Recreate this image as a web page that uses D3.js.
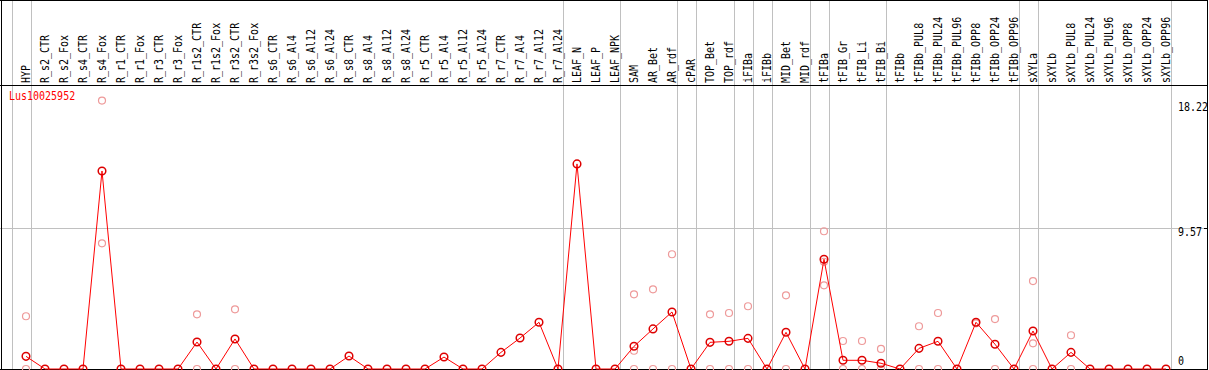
<!DOCTYPE html>
<html>
<head>
<meta charset="utf-8">
<script src="https://cdn.jsdelivr.net/npm/d3@7"></script>
<style>
  body { margin: 0; background: #fff; }
  svg { display: block; }
  text { font-family: "DejaVu Sans Mono", monospace; font-size: 10px; }
</style>
</head>
<body>
<div id="chart-area"></div>
<script>
var categories = ["HYP",
    "R_s2_CTR", "R_s2_Fox", "R_s4_CTR", "R_s4_Fox", "R_r1_CTR", "R_r1_Fox", "R_r3_CTR", "R_r3_Fox",
    "R_r1s2_CTR", "R_r1s2_Fox", "R_r3s2_CTR", "R_r3s2_Fox",
    "R_s6_CTR", "R_s6_Al4", "R_s6_Al12", "R_s6_Al24", "R_s8_CTR", "R_s8_Al4", "R_s8_Al12", "R_s8_Al24",
    "R_r5_CTR", "R_r5_Al4", "R_r5_Al12", "R_r5_Al24", "R_r7_CTR", "R_r7_Al4", "R_r7_Al12", "R_r7_Al24",
    "LEAF_N", "LEAF_P", "LEAF_NPK",
    "SAM", "AR_Bet", "AR_rdf",
    "cPAR",
    "TOP_Bet", "TOP_rdf",
    "iFIBa",
    "iFIBb",
    "MID_Bet", "MID_rdf",
    "tFIBa",
    "tFIB_Gr", "tFIB_Li", "tFIB_Bi",
    "tFIBb", "tFIBb_PUL8", "tFIBb_PUL24", "tFIBb_PUL96", "tFIBb_OPP8", "tFIBb_OPP24", "tFIBb_OPP96",
    "sXYLa",
    "sXYLb", "sXYLb_PUL8", "sXYLb_PUL24", "sXYLb_PUL96", "sXYLb_OPP8", "sXYLb_OPP24", "sXYLb_OPP96"];

// last category of each group (a grey separator follows it)
var groupEnds = ["HYP", "R_r7_Al24", "LEAF_NPK", "AR_rdf", "cPAR", "TOP_rdf", "iFIBa", "iFIBb",
    "MID_rdf", "tFIBa", "tFIB_Bi", "tFIBb_OPP96", "sXYLa", "sXYLb_OPP96"];

var geneName = "Lus10025952";

// mean expression (red line)
var meanValues = [0.86,
    0, 0, 0, 13.44, 0, 0, 0, 0,
    1.83, 0, 2.04, 0,
    0, 0, 0, 0, 0.88, 0, 0, 0,
    0, 0.81, 0, 0, 1.13, 2.10, 3.17, 0,
    13.92, 0, 0,
    1.54, 2.72, 3.87,
    0,
    1.81, 1.88,
    2.08,
    0,
    2.49, 0,
    7.45,
    0.59, 0.59, 0.39,
    0, 1.40, 1.88, 0, 3.17, 1.68, 0,
    2.58,
    0, 1.13, 0, 0, 0, 0, 0];

// replicate values (pale circles), null = not drawn
var rep1 = [3.58,
    null, null, null, 18.22, null, null, null, null,
    3.71, null, 4.05, null,
    null, null, null, null, null, null, null, null,
    null, null, null, null, null, null, null, null,
    null, null, null,
    5.07, 5.41, 7.79,
    null,
    3.71, 3.80,
    4.26,
    null,
    5.00, null,
    9.35,
    1.90, 1.90, 1.36,
    null, 2.90, 3.80, null, 3.10, 3.39, null,
    5.97,
    null, 2.29, null, null, null, null, null];

var rep2 = [0,
    null, null, null, 8.53, null, null, null, null,
    0, null, 0, null,
    null, null, null, null, null, null, null, null,
    null, null, null, null, null, null, null, null,
    null, null, null,
    1.24, 0, 0,
    null,
    0, 0,
    0,
    null,
    0, null,
    5.68,
    0, 0, 0,
    null, 0, 0, null, null, 0, null,
    1.74,
    null, 0, null, null, null, null, null];

var rep3 = [null,
    null, null, null, null, null, null, null, null,
    null, null, null, null,
    null, null, null, null, null, null, null, null,
    null, null, null, null, null, null, null, null,
    null, null, null,
    0, null, null,
    null,
    null, null,
    null,
    null,
    null, null,
    7.28,
    null, null, null,
    null, null, null, null, null, null, null,
    0,
    null, null, null, null, null, null, null];

var yTicks = [0, 9.57, 18.22];

var W = 1209, H = 370;
var headerBottom = 85, plotBottom = 369, rightEdge = 1207.5;

var svg = d3.select("#chart-area")
    .append("svg")
    .attr("width", W)
    .attr("height", H);

var x = d3.scalePoint()
    .domain(categories)
    .range([26, 26 + (categories.length - 1) * 19]);

var y = d3.scaleLinear()
    .domain([0, 19.14])
    .range([plotBottom, 87]);

var step = x.step();

// group separators
var sepX = [x(categories[0]) - step + 4.7].concat(groupEnds.map(function(c) { return x(c) + 4.7; }));
svg.selectAll(".sep")
    .data(sepX)
    .enter()
    .append("line")
    .attr("x1", function(d) { return Math.round(d) + 0.5; })
    .attr("x2", function(d) { return Math.round(d) + 0.5; })
    .attr("y1", 0)
    .attr("y2", plotBottom)
    .attr("stroke", "#c0c0c0");

// horizontal grid at the middle tick
svg.append("line")
    .attr("x1", 0).attr("x2", rightEdge)
    .attr("y1", Math.round(y(yTicks[1])) + 0.5)
    .attr("y2", Math.round(y(yTicks[1])) + 0.5)
    .attr("stroke", "#c0c0c0");

// frame
svg.append("line").attr("x1", 0).attr("x2", rightEdge).attr("y1", 0.5).attr("y2", 0.5).attr("stroke", "#000");
svg.append("line").attr("x1", 0).attr("x2", rightEdge).attr("y1", headerBottom + 0.5).attr("y2", headerBottom + 0.5).attr("stroke", "#000");
svg.append("line").attr("x1", 0).attr("x2", rightEdge).attr("y1", plotBottom + 0.5).attr("y2", plotBottom + 0.5).attr("stroke", "#000");
svg.append("line").attr("x1", 1.5).attr("x2", 1.5).attr("y1", 0).attr("y2", H).attr("stroke", "#000");
svg.append("line").attr("x1", rightEdge).attr("x2", rightEdge).attr("y1", 0).attr("y2", H).attr("stroke", "#000");

// rotated category labels (slightly stretched like the bitmap font)
svg.selectAll(".cat")
    .data(categories)
    .enter()
    .append("text")
    .attr("transform", function(d) { return "translate(" + (x(d) + 3.5) + "," + 83 + ") rotate(-90) scale(1,1.15)"; })
    .attr("text-anchor", "start")
    .attr("fill", "#000")
    .text(function(d) { return d; });

// y tick labels on the right
svg.selectAll(".ytick")
    .data(yTicks)
    .enter()
    .append("text")
    .attr("transform", function(d) {
        var ty = Math.min(y(d) + (d === 18.22 ? 10.5 : 8), plotBottom - 4);
        return "translate(1178," + ty + ") scale(1,1.15)";
    })
    .attr("fill", "#000")
    .text(function(d) { return d === 0 ? "0" : d.toFixed(2); });

svg.append("line")
    .attr("x1", 1204).attr("x2", rightEdge)
    .attr("y1", Math.round(y(yTicks[1])) + 0.5)
    .attr("y2", Math.round(y(yTicks[1])) + 0.5)
    .attr("stroke", "#000");

// gene name
svg.append("text")
    .attr("transform", "translate(9,100) scale(1,1.15)")
    .attr("fill", "#ff0000")
    .text(geneName);

// replicate circles
[rep1, rep2, rep3].forEach(function(rep) {
    svg.append("g")
        .selectAll("circle")
        .data(rep.map(function(v, i) { return { c: categories[i], v: v }; })
            .filter(function(d) { return d.v !== null; }))
        .enter()
        .append("circle")
        .attr("cx", function(d) { return x(d.c); })
        .attr("cy", function(d) { return y(d.v); })
        .attr("r", 3.5)
        .attr("fill", "none")
        .attr("stroke", "#ee9a9a")
        .attr("stroke-width", 1.2);
});

// mean line
var line = d3.line()
    .x(function(d, i) { return x(categories[i]); })
    .y(function(d) { return y(d); });

svg.append("path")
    .datum(meanValues)
    .attr("d", line)
    .attr("fill", "none")
    .attr("stroke", "#ff0000")
    .attr("stroke-width", 1);

svg.append("g")
    .selectAll("circle")
    .data(meanValues)
    .enter()
    .append("circle")
    .attr("cx", function(d, i) { return x(categories[i]); })
    .attr("cy", function(d) { return y(d); })
    .attr("r", 3.8)
    .attr("fill", "none")
    .attr("stroke", "#dd0000")
    .attr("stroke-width", 1.5);
</script>
</body>
</html>
